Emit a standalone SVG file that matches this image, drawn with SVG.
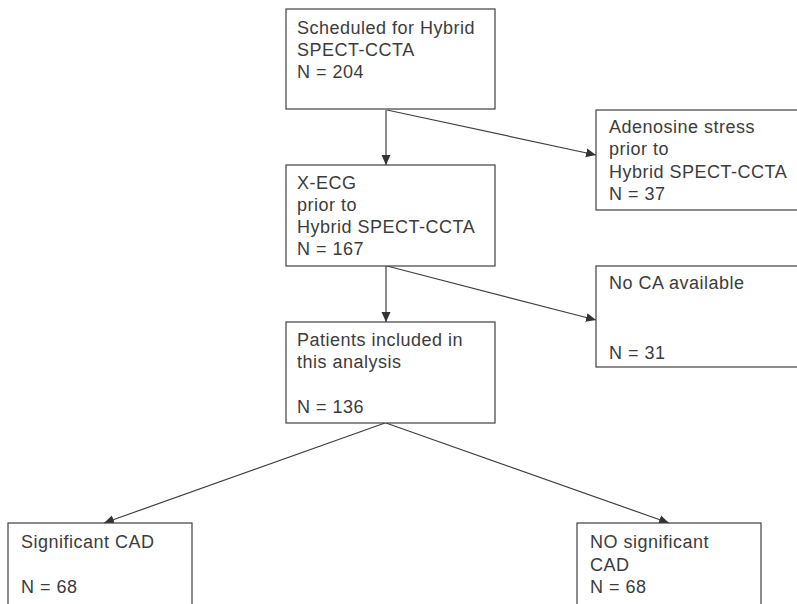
<svg xmlns="http://www.w3.org/2000/svg" width="797" height="604" viewBox="0 0 797 604">
  <style>
    .box { fill: #ffffff; stroke: #404040; stroke-width: 1.2; }
    .lbl { font-family: "Liberation Sans", Arial, sans-serif; font-size: 18px; letter-spacing: 0.5px; fill: #3c3c3c; }
    .edge { stroke: #404040; stroke-width: 1.2; fill: none; marker-end: url(#head); }
  </style>
  <defs>
    <marker id="head" viewBox="0 0 10 10" refX="10" refY="5" markerWidth="10" markerHeight="10" markerUnits="userSpaceOnUse" orient="auto">
      <path d="M0,0.5 L10,5 L0,9.5 Z" fill="#333333"/>
    </marker>
  </defs>
  <rect width="797" height="604" fill="#ffffff"/>

  <g id="connectors">
    <line class="edge" x1="386" y1="110" x2="386" y2="165"/>
    <line class="edge" x1="387" y1="110" x2="596" y2="155"/>
    <line class="edge" x1="386" y1="266" x2="386" y2="322"/>
    <line class="edge" x1="387" y1="266" x2="596" y2="320"/>
    <line class="edge" x1="385" y1="423" x2="104" y2="523"/>
    <line class="edge" x1="386" y1="423" x2="669" y2="523"/>
  </g>

  <g id="scheduled">
    <rect class="box" x="286" y="9" width="209" height="100"/>
    <text class="lbl" x="297" y="34">Scheduled for Hybrid</text>
    <text class="lbl" x="297" y="56">SPECT-CCTA</text>
    <text class="lbl" x="297" y="78">N = 204</text>
  </g>

  <g id="adenosine">
    <rect class="box" x="596" y="110" width="210" height="100"/>
    <text class="lbl" x="609" y="133">Adenosine stress</text>
    <text class="lbl" x="609" y="155">prior to</text>
    <text class="lbl" x="609" y="178">Hybrid SPECT-CCTA</text>
    <text class="lbl" x="609" y="200">N = 37</text>
  </g>

  <g id="xecg">
    <rect class="box" x="286" y="165" width="209" height="101"/>
    <text class="lbl" x="297" y="189">X-ECG</text>
    <text class="lbl" x="297" y="211">prior to</text>
    <text class="lbl" x="297" y="233">Hybrid SPECT-CCTA</text>
    <text class="lbl" x="297" y="255">N = 167</text>
  </g>

  <g id="no-ca">
    <rect class="box" x="596" y="266" width="210" height="101"/>
    <text class="lbl" x="609" y="289">No CA available</text>
    <text class="lbl" x="609" y="359">N = 31</text>
  </g>

  <g id="included">
    <rect class="box" x="286" y="322" width="209" height="101"/>
    <text class="lbl" x="297" y="346">Patients included in</text>
    <text class="lbl" x="297" y="368">this analysis</text>
    <text class="lbl" x="297" y="413">N = 136</text>
  </g>

  <g id="significant">
    <rect class="box" x="8" y="523" width="184" height="100"/>
    <text class="lbl" x="21" y="548">Significant CAD</text>
    <text class="lbl" x="21" y="593">N = 68</text>
  </g>

  <g id="not-significant">
    <rect class="box" x="577" y="523" width="184" height="100"/>
    <text class="lbl" x="590" y="548">NO significant</text>
    <text class="lbl" x="590" y="571">CAD</text>
    <text class="lbl" x="590" y="593">N = 68</text>
  </g>
</svg>
